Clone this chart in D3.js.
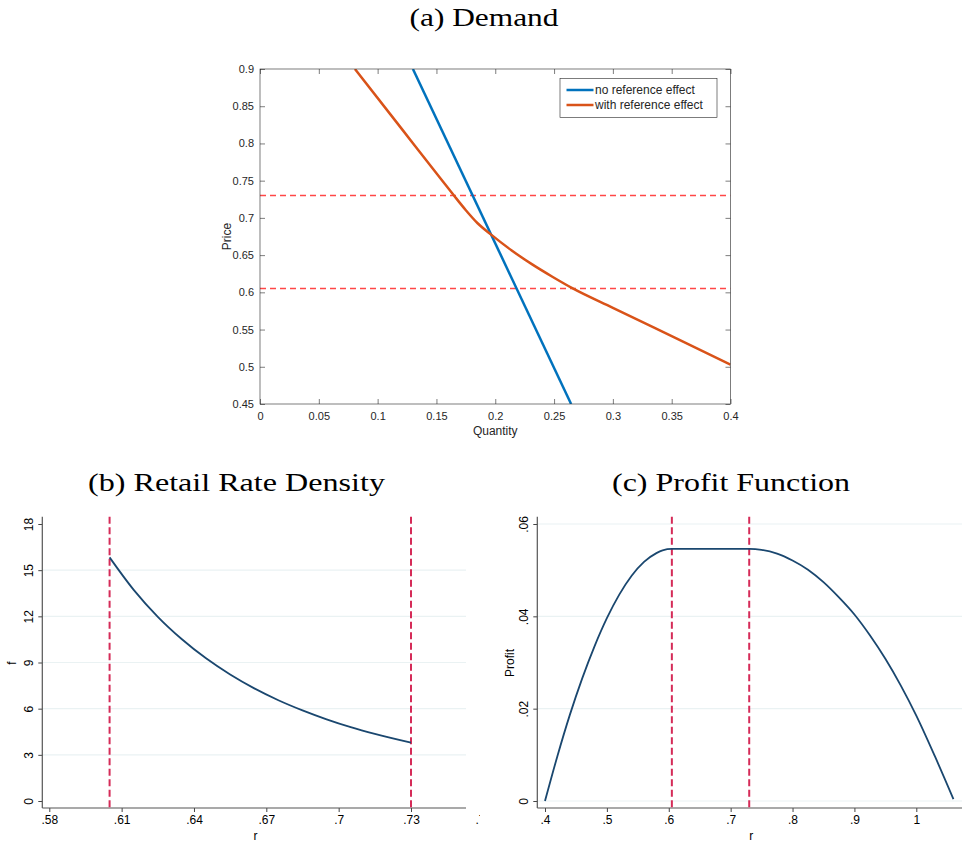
<!DOCTYPE html>
<html>
<head>
<meta charset="utf-8">
<script src="https://cdn.jsdelivr.net/npm/d3@7"></script>
<style>
  body { margin: 0; background: #fff; }
  svg { display: block; }
  .title { font-family: "Liberation Serif", "DejaVu Serif", serif; font-size: 25px; fill: #000; }
  .matlab text { font-family: "Liberation Sans", Arial, sans-serif; font-size: 11px; fill: #262626; }
  .stata text { font-family: "Liberation Sans", Arial, sans-serif; font-size: 12px; fill: #000; }
</style>
</head>
<body>
<div id="chart"></div>
<script>
// ---- data ----
// (a) demand: quantity / price
const qNoRef = [0.13, 0.2645];
const pNoRef = [0.9, 0.45];
const qRef = [0.0807, 0.12, 0.155, 0.1649, 0.175, 0.185, 0.1965, 0.214, 0.2314, 0.2489, 0.2663, 0.3, 0.35, 0.4];
const pRef = [0.9, 0.8206, 0.7499, 0.73, 0.7103, 0.6928, 0.6775, 0.6562, 0.6375, 0.6206, 0.6049, 0.5792, 0.5411, 0.503];
const refBounds = [0.605, 0.73];
const legendLabels = ["no reference effect", "with reference effect"];
const aTicksX = [0, 0.05, 0.1, 0.15, 0.2, 0.25, 0.3, 0.35, 0.4];
const aTicksY = [0.45, 0.5, 0.55, 0.6, 0.65, 0.7, 0.75, 0.8, 0.85, 0.9];

// (b) retail rate density
const rDensity = [0.605, 0.615, 0.625, 0.635, 0.645, 0.655, 0.665, 0.675, 0.685, 0.695, 0.705, 0.715, 0.73];
const fDensity = [15.83, 13.72, 11.97, 10.51, 9.27, 8.22, 7.32, 6.55, 5.89, 5.31, 4.8, 4.36, 3.79];
const bTicksX = [0.58, 0.61, 0.64, 0.67, 0.7, 0.73, 0.76];
const bTicksY = [0, 3, 6, 9, 12, 15, 18];
const bGrid = [3, 6, 9, 12, 15];

// (c) profit function
const rProfit = [0.4, 0.42, 0.44, 0.46, 0.48, 0.5, 0.52, 0.54, 0.56, 0.58, 0.59, 0.605,
  0.73, 0.75, 0.775, 0.8, 0.825, 0.85, 0.875, 0.9, 0.925, 0.95, 0.975, 1.0, 1.03, 1.06];
const profit = [0, 0.0097, 0.0186, 0.0265, 0.0335, 0.0396, 0.0447, 0.0488, 0.0518, 0.0537, 0.0543, 0.0546,
  0.0546, 0.0544, 0.0536, 0.0521, 0.0501, 0.0474, 0.0441, 0.0404, 0.0359, 0.0308, 0.025, 0.0185, 0.0097, 0.0004];
const cTicksX = [0.4, 0.5, 0.6, 0.7, 0.8, 0.9, 1];
const cTicksY = [0, 0.02, 0.04, 0.06];

const width = 964, height = 846;
const svg = d3.select("#chart").append("svg")
  .attr("width", width).attr("height", height);
svg.append("rect").attr("width", width).attr("height", height).attr("fill", "#fff");

//strip the leading zero the way Stata prints labels
const stataFmt = (d) => String(+d.toFixed(2)).replace(/^0\./, ".");

// =================== (a) Demand (MATLAB style) ===================
const gA = svg.append("g").attr("class", "matlab");
const xA = d3.scaleLinear().domain([0, 0.4]).range([260, 730.5]);
const yA = d3.scaleLinear().domain([0.45, 0.9]).range([404, 69]);

svg.append("text").attr("class", "title")
  .attr("x", 484).attr("y", 26).attr("text-anchor", "middle")
  .attr("textLength", 149).attr("lengthAdjust", "spacingAndGlyphs")
  .text("(a) Demand");

gA.append("defs").append("clipPath").attr("id", "clipA")
  .append("rect").attr("x", xA(0)).attr("y", yA(0.9))
  .attr("width", xA(0.4) - xA(0)).attr("height", yA(0.45) - yA(0.9));

//axes with inward ticks on all four sides
function styleAxis(g) {
  g.select(".domain").remove();
  g.selectAll(".tick line").attr("stroke", "#262626").attr("stroke-width", 0.6);
}
gA.append("g").attr("transform", `translate(0,${yA(0.45)})`)
  .call(d3.axisBottom(xA).tickValues(aTicksX).tickSizeInner(-5).tickSizeOuter(0).tickPadding(8)
    .tickFormat((d) => String(+d.toFixed(2))))
  .call(styleAxis);
gA.append("g").attr("transform", `translate(0,${yA(0.9)})`)
  .call(d3.axisTop(xA).tickValues(aTicksX).tickSizeInner(-5).tickSizeOuter(0).tickFormat(""))
  .call(styleAxis);
gA.append("g").attr("transform", `translate(${xA(0)},0)`)
  .call(d3.axisLeft(yA).tickValues(aTicksY).tickSizeInner(-5).tickSizeOuter(0).tickPadding(6)
    .tickFormat((d) => String(+d.toFixed(2))))
  .call(styleAxis);
gA.append("g").attr("transform", `translate(${xA(0.4)},0)`)
  .call(d3.axisRight(yA).tickValues(aTicksY).tickSizeInner(-5).tickSizeOuter(0).tickFormat(""))
  .call(styleAxis);
gA.selectAll(".tick text").attr("fill", "#262626").style("font-size", "11px");

const plotA = gA.append("g").attr("clip-path", "url(#clipA)");

// reference price bounds
plotA.selectAll(".refline").data(refBounds).enter()
  .append("line").attr("class", "refline")
  .attr("x1", xA(0)).attr("x2", xA(0.4))
  .attr("y1", (d) => yA(d)).attr("y2", (d) => yA(d))
  .attr("stroke", "#ff4747").attr("stroke-width", 1.5)
  .attr("stroke-dasharray", "6,4");

const lineA = d3.line().x((d) => xA(d[0])).y((d) => yA(d[1]));
plotA.append("path")
  .datum(qNoRef.map((q, i) => [q, pNoRef[i]]))
  .attr("d", lineA).attr("fill", "none")
  .attr("stroke", "#0072bd").attr("stroke-width", 2.5);
plotA.append("path")
  .datum(qRef.map((q, i) => [q, pRef[i]]))
  .attr("d", lineA.curve(d3.curveMonotoneX)).attr("fill", "none")
  .attr("stroke", "#d95319").attr("stroke-width", 2.5);

gA.append("rect")
  .attr("x", xA(0)).attr("y", yA(0.9))
  .attr("width", xA(0.4) - xA(0)).attr("height", yA(0.45) - yA(0.9))
  .attr("fill", "none").attr("stroke", "#262626").attr("stroke-width", 0.6);

gA.append("text").attr("x", (xA(0) + xA(0.4)) / 2).attr("y", 435)
  .attr("text-anchor", "middle").style("font-size", "12px").text("Quantity");
gA.append("text").attr("transform", `translate(231,${yA(0.675)}) rotate(-90)`)
  .attr("text-anchor", "middle").style("font-size", "12px").text("Price");

// legend
const legend = gA.append("g").attr("transform", "translate(560,78.5)");
legend.append("rect").attr("width", 157).attr("height", 39)
  .attr("fill", "#fff").attr("stroke", "#262626").attr("stroke-width", 0.6);
const legColors = ["#0072bd", "#d95319"];
legendLabels.forEach(function (lab, i) {
  legend.append("line").attr("x1", 6.5).attr("x2", 33.5)
    .attr("y1", 11.5 + i * 15).attr("y2", 11.5 + i * 15)
    .attr("stroke", legColors[i]).attr("stroke-width", 2.5);
  legend.append("text").attr("x", 35).attr("y", 15.5 + i * 15)
    .style("font-size", "12px").attr("fill", "#000").text(lab);
});

// =================== Stata panels (b) and (c) ===================
const navy = "#1a476f";
const crimson = "#d52b58";
const gridColor = "#eaf2f3";
const axisTop = 516.7, axisBottom = 808;

function stataPanel(opts) {
  const g = svg.append("g").attr("class", "stata");
  if (opts.clip) {
    g.append("defs").append("clipPath").attr("id", opts.clip.id)
      .append("rect").attr("x", opts.clip.x0).attr("y", 0)
      .attr("width", opts.clip.x1 - opts.clip.x0).attr("height", height);
    g.attr("clip-path", `url(#${opts.clip.id})`);
  }
  const { x, y, axisX, axisRight } = opts;

  // gridlines
  g.selectAll(".grid").data(opts.grid).enter()
    .append("line").attr("class", "grid")
    .attr("x1", axisX).attr("x2", axisRight)
    .attr("y1", (d) => y(d)).attr("y2", (d) => y(d))
    .attr("stroke", gridColor).attr("stroke-width", 1.2);

  // x axis
  const gx = g.append("g").attr("transform", `translate(0,${axisBottom})`)
    .call(d3.axisBottom(x).tickValues(opts.ticksX).tickSizeInner(4).tickSizeOuter(0)
      .tickPadding(3).tickFormat(stataFmt));
  gx.select(".domain").remove();
  gx.selectAll(".tick line").attr("stroke", "#444");
  gx.selectAll(".tick text").attr("fill", "#000").style("font-size", "12px");
  g.append("line").attr("x1", axisX).attr("x2", axisRight)
    .attr("y1", axisBottom).attr("y2", axisBottom)
    .attr("stroke", "#555").attr("stroke-width", 1.2);

  // y axis with rotated labels
  const gy = g.append("g").attr("transform", `translate(${axisX},0)`)
    .call(d3.axisLeft(y).tickValues(opts.ticksY).tickSizeInner(4).tickSizeOuter(0)
      .tickFormat(stataFmt));
  gy.select(".domain").remove();
  gy.selectAll(".tick line").attr("stroke", "#444");
  gy.selectAll(".tick text")
    .attr("x", null).attr("dy", null)
    .attr("text-anchor", "middle")
    .attr("transform", "translate(-9,0) rotate(-90)")
    .attr("fill", "#000").style("font-size", "12px");
  g.append("line").attr("x1", axisX).attr("x2", axisX)
    .attr("y1", axisTop).attr("y2", axisBottom)
    .attr("stroke", "#555").attr("stroke-width", 1.2);

  // bound lines
  g.selectAll(".bound").data(refBounds).enter()
    .append("line").attr("class", "bound")
    .attr("x1", (d) => x(d)).attr("x2", (d) => x(d))
    .attr("y1", axisTop).attr("y2", axisBottom)
    .attr("stroke", crimson).attr("stroke-width", 2)
    .attr("stroke-dasharray", "7,3.5");

  // curve
  g.append("path")
    .datum(opts.xs.map((v, i) => [v, opts.ys[i]]))
    .attr("d", d3.line().x((d) => x(d[0])).y((d) => y(d[1])).curve(d3.curveMonotoneX))
    .attr("fill", "none").attr("stroke", navy).attr("stroke-width", 1.8);

  // axis titles
  g.append("text").attr("x", x(opts.rLabelAt)).attr("y", 840)
    .attr("text-anchor", "middle").text("r");
  g.append("text").attr("transform", `translate(${opts.yTitleX},663) rotate(-90)`)
    .attr("text-anchor", "middle").text(opts.yTitle);

  svg.append("text").attr("class", "title")
    .attr("x", opts.titleX).attr("y", 491).attr("text-anchor", "middle")
    .attr("textLength", opts.titleW).attr("lengthAdjust", "spacingAndGlyphs")
    .text(opts.title);
}

// (b) Retail Rate Density
const xB = d3.scaleLinear().domain([0.58, 0.73]).range([49.3, 411]);
const yB = d3.scaleLinear().domain([0, 18]).range([801, 524]);
stataPanel({
  x: xB, y: yB, axisX: 42.3, axisRight: 466,
  ticksX: bTicksX, ticksY: bTicksY, grid: bGrid,
  xs: rDensity, ys: fDensity,
  yTitle: "f", yTitleX: 16, rLabelAt: 0.6655,
  title: "(b) Retail Rate Density", titleX: 236.5, titleW: 297,
  clip: { id: "clipB", x0: 0, x1: 480 },
});

// (c) Profit Function
const xC = d3.scaleLinear().domain([0.4, 1]).range([545, 916.3]);
const yC = d3.scaleLinear().domain([0, 0.06]).range([801, 524]);
stataPanel({
  x: xC, y: yC, axisX: 537.3, axisRight: 962,
  ticksX: cTicksX, ticksY: cTicksY, grid: cTicksY,
  xs: rProfit, ys: profit,
  yTitle: "Profit", yTitleX: 514, rLabelAt: 0.7331,
  title: "(c) Profit Function", titleX: 731, titleW: 238,
});
</script>
</body>
</html>
